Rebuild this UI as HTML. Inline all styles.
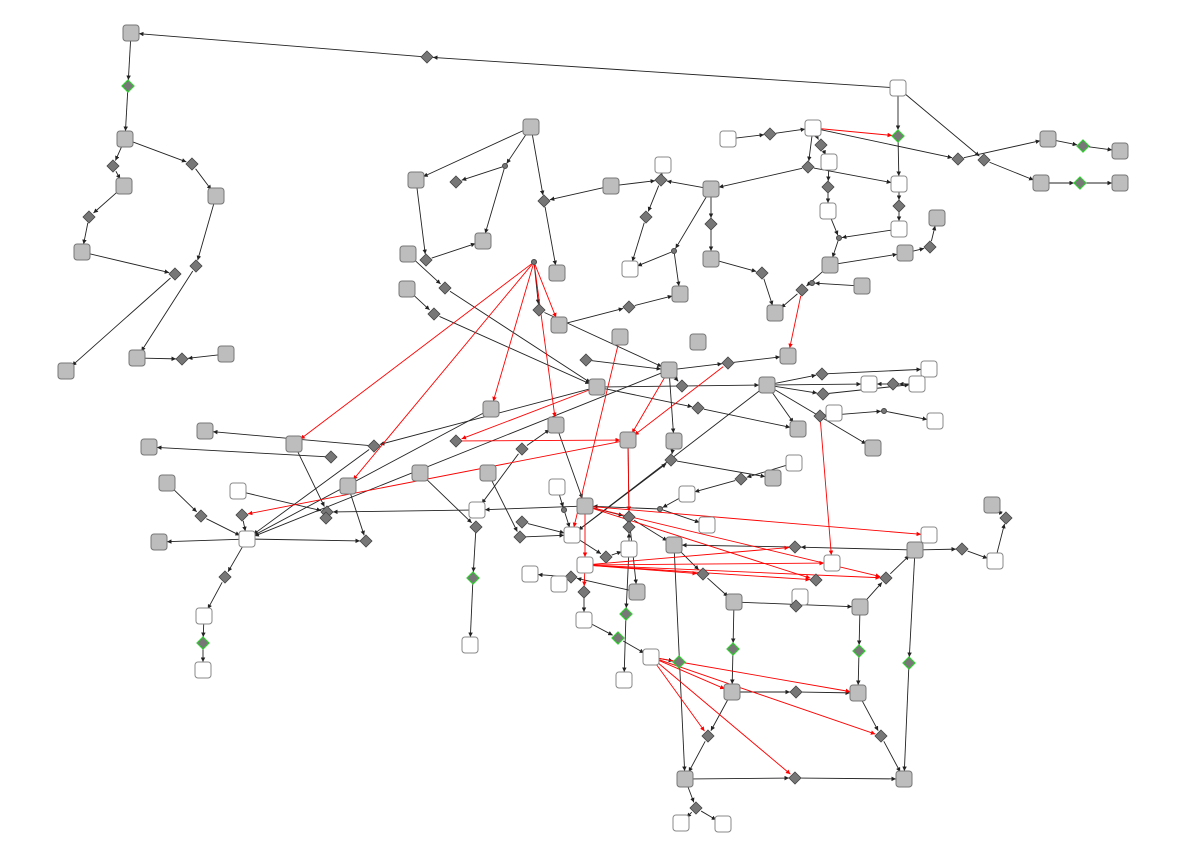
<!DOCTYPE html>
<html><head><meta charset="utf-8"><style>html,body{margin:0;padding:0;background:#fff}svg{display:block}</style></head>
<body>
<svg id="g" width="1203" height="862" viewBox="0 0 1203 862" xmlns="http://www.w3.org/2000/svg">
<defs>
<marker id="ab" viewBox="0 0 6 6" refX="6" refY="3" markerWidth="5" markerHeight="5" orient="auto"><path d="M0,0L6,3L0,6z" fill="#222"/></marker>
<marker id="ar" viewBox="0 0 6 6" refX="6" refY="3" markerWidth="5" markerHeight="5" orient="auto"><path d="M0,0L6,3L0,6z" fill="#f00"/></marker>
</defs>
<g id="edges"></g>
<g id="nodes"></g>
</svg>
<script>
const nodes=[
[131,33,'G'],[427,57,'D'],[898,88,'W'],[128,86,'E'],[125,139,'G'],[113,166,'D'],[192,164,'D'],[124,186,'G'],[216,196,'G'],[89,217,'D'],[82,252,'G'],[175,274,'D'],[196,266,'D'],[66,371,'G'],[137,358,'G'],[182,359,'D'],[226,354,'G'],
[531,127,'G'],[505,166,'S'],[456,182,'D'],[416,180,'G'],[544,201,'D'],[483,241,'G'],[426,260,'D'],[408,254,'G'],[557,273,'G'],[534,262,'S'],[407,289,'G'],[445,288,'D'],[434,314,'D'],[539,310,'D'],[559,325,'G'],[629,307,'D'],[680,294,'G'],[620,337,'G'],[698,342,'G'],[586,360,'D'],[669,370,'G'],[728,363,'D'],[788,356,'G'],[597,387,'G'],[682,386,'D'],[767,385,'G'],[491,409,'G'],[698,408,'D'],
[728,139,'W'],[770,134,'D'],[813,128,'W'],[898,136,'E'],[958,159,'D'],[984,160,'D'],[1048,139,'G'],[1083,146,'E'],[1120,151,'G'],[1041,183,'G'],[1080,183,'E'],[1120,183,'G'],[663,165,'W'],[661,180,'D'],[611,186,'G'],[711,189,'G'],[821,145,'D'],[829,162,'W'],[808,167,'D'],[828,187,'D'],[899,184,'W'],[828,211,'W'],[646,217,'D'],[711,224,'D'],[899,206,'D'],[899,229,'W'],[937,218,'G'],[839,238,'S'],[674,251,'S'],[630,269,'W'],[711,259,'G'],[762,273,'D'],[830,265,'G'],[930,247,'D'],[905,253,'G'],[862,286,'G'],[802,290,'D'],[812,283,'S'],[775,313,'G'],
[822,374,'D'],[929,369,'W'],[869,384,'W'],[893,384,'D'],[917,384,'W'],[823,394,'D'],[834,413,'W'],[820,416,'D'],[884,411,'S'],[935,421,'W'],[798,429,'G'],[873,448,'G'],
[294,444,'G'],[205,431,'G'],[149,447,'G'],[374,446,'D'],[456,441,'D'],[556,425,'G'],[628,440,'G'],[331,457,'D'],[522,449,'D'],[674,441,'G'],[671,460,'D'],[420,473,'G'],[488,473,'G'],[741,479,'D'],[773,478,'G'],[794,463,'W'],[348,486,'G'],[167,483,'G'],[238,491,'W'],[242,515,'D'],[201,516,'D'],[159,542,'G'],[247,539,'W'],[327,512,'D'],[326,518,'D'],[366,541,'D'],[477,510,'W'],[476,527,'D'],[557,487,'W'],[585,506,'G'],[564,510,'S'],[522,522,'D'],[520,537,'D'],[572,535,'W'],[629,517,'D'],[660,509,'S'],[687,494,'W'],[707,525,'W'],[629,527,'D'],[629,549,'W'],[606,557,'D'],[674,545,'G'],[795,547,'D'],[915,550,'G'],[929,535,'W'],[962,549,'D'],[995,561,'W'],[992,505,'G'],[1006,518,'D'],
[585,565,'W'],[530,574,'W'],[571,577,'D'],[559,584,'W'],[584,592,'D'],[637,592,'G'],[703,574,'D'],[832,563,'W'],[816,580,'D'],[886,578,'D'],[800,597,'W'],[734,602,'G'],[796,606,'D'],[860,607,'G'],[473,578,'E'],[225,577,'D'],[204,616,'W'],[203,643,'E'],[203,670,'W'],[470,645,'W'],[584,620,'W'],[626,614,'E'],[618,638,'E'],[624,680,'W'],[651,657,'W'],[679,662,'E'],[733,649,'E'],[859,651,'E'],[909,663,'E'],[732,692,'G'],[796,692,'D'],[858,693,'G'],[708,736,'D'],[881,736,'D'],[685,779,'G'],[795,778,'D'],[904,779,'G'],[696,808,'D'],[681,823,'W'],[723,824,'W']
];
const blackEdges=[
[427,57,131,33],[898,88,427,57],[131,33,128,86],[128,86,125,139],[125,139,113,166],[125,139,192,164],[113,166,124,186],[192,164,216,196],[124,186,89,217],[89,217,82,252],[216,196,196,266],[82,252,175,274],[175,274,66,371],[196,266,137,358],[137,358,182,359],[226,354,182,359],
[898,88,898,136],[898,88,984,160],[984,160,1041,183],[1041,183,1080,183],[1080,183,1120,183],[813,128,958,159],[958,159,1048,139],[1048,139,1083,146],[1083,146,1120,151],[728,139,770,134],[770,134,813,128],[813,128,821,145],[821,145,829,162],[813,128,808,167],[808,167,711,189],[808,167,899,184],[829,162,828,187],[828,187,828,211],[898,136,899,184],[899,184,899,206],[899,206,899,229],[899,229,839,238],[828,211,839,238],[839,238,830,265],[830,265,905,253],[905,253,930,247],[930,247,937,218],[830,265,802,290],[802,290,775,313],[862,286,812,283],[711,189,711,224],[711,224,711,259],[711,259,762,273],[762,273,775,313],[711,189,674,251],[674,251,630,269],[674,251,680,294],[711,189,661,180],[661,180,663,165],[661,180,646,217],[646,217,630,269],[611,186,661,180],[611,186,544,180],
[531,127,416,180],[531,127,505,166],[505,166,483,241],[505,166,456,182],[416,180,426,260],[426,260,483,241],[531,127,544,201],[544,201,557,273],[408,254,445,288],[445,288,597,387],[407,289,434,314],[434,314,597,387],[539,310,669,370],[559,325,629,307],[629,307,680,294],[534,262,539,310],[586,360,669,370],[669,370,728,363],[728,363,788,356],[669,370,682,386],[597,387,767,385],[669,370,674,441],[767,385,822,374],[822,374,929,369],[767,385,869,384],[917,384,893,384],[893,384,869,384],[767,385,823,394],[823,394,917,384],[767,385,798,429],[597,387,698,408],[698,408,798,429],[820,416,834,413],[884,411,935,421],[820,416,884,411],[767,385,873,448],[767,385,572,535],[597,387,374,446],[374,446,247,539],[374,446,205,431],[294,444,326,512],[331,457,149,447],[669,370,247,539],[491,409,247,539],[522,449,556,425],[522,449,477,510],[420,473,476,527],[488,473,520,537],[671,460,773,478],[794,463,741,479],[741,479,687,494],[687,494,660,509],[660,509,707,525],[660,509,585,506],[585,506,629,517],[629,517,674,545],[585,506,477,510],[477,510,327,512],[476,527,473,578],[473,578,470,645],[564,510,572,535],[520,537,572,535],[522,522,572,535],[557,487,564,510],[348,486,366,541],[238,491,326,512],[247,539,366,541],[247,539,159,542],[167,483,201,516],[201,516,247,539],[242,515,247,539],[247,539,225,577],[225,577,204,616],[204,616,203,643],[203,643,203,670],[572,535,674,460],[572,535,606,557],[606,557,629,549],[629,549,629,527],[629,549,626,614],[626,614,624,680],[637,592,571,577],[571,577,530,574],[559,584,571,577],[584,592,584,620],[584,620,618,638],[618,638,651,657],[674,545,703,574],[703,574,734,602],[674,545,685,779],[734,602,860,607],[860,607,886,578],[886,578,915,550],[915,550,962,549],[962,549,995,561],[995,561,1006,518],[1006,518,992,505],[915,550,795,547],[795,547,674,545],[915,550,909,663],[909,663,904,779],[860,607,859,651],[859,651,858,693],[734,602,733,649],[733,649,732,692],[732,692,796,692],[796,692,858,693],[732,692,708,736],[708,736,685,779],[858,693,881,736],[881,736,904,779],[685,779,795,778],[795,778,904,779],[685,779,696,808],[696,808,681,823],[696,808,723,824],[651,657,679,662],[628,440,629,517],[674,441,671,460],[556,425,585,506],[629,517,637,592]
];
const redEdges=[
[813,128,898,136],[534,262,294,444],[534,262,348,486],[534,262,491,409],[534,262,556,425],[534,262,559,325],[620,337,572,535],[802,290,788,356],[820,416,832,563],[628,440,242,515],[456,441,628,440],[597,387,456,441],[669,370,628,440],[728,363,628,440],[628,440,629,517],[585,506,929,535],[585,506,886,578],[585,506,816,580],[585,565,795,547],[585,565,886,578],[585,565,832,563],[585,565,816,580],[585,565,703,574],[585,506,585,565],[585,565,584,592],[651,657,858,693],[651,657,881,736],[651,657,795,778],[651,657,732,692],[651,657,708,736]
];
const NS='http://www.w3.org/2000/svg';
function snap(x,y){let b=null,d=1e9;for(const n of nodes){const e=(n[0]-x)**2+(n[1]-y)**2;if(e<d){d=e;b=n;}}return b;}
function rad(t){return t==='S'?3:(t==='D'||t==='E')?6:8;}
const eg=document.getElementById('edges'),ng=document.getElementById('nodes');
function drawEdge(e,red){const a=snap(e[0],e[1]),b=snap(e[2],e[3]);const dx=b[0]-a[0],dy=b[1]-a[1],L=Math.hypot(dx,dy)||1;const ra=rad(a[2]),rb=rad(b[2]);
const l=document.createElementNS(NS,'line');
l.setAttribute('x1',a[0]+dx/L*ra);l.setAttribute('y1',a[1]+dy/L*ra);l.setAttribute('x2',b[0]-dx/L*rb);l.setAttribute('y2',b[1]-dy/L*rb);
l.setAttribute('stroke',red?'#f00':'#222');l.setAttribute('stroke-width','0.9');l.setAttribute('marker-end',red?'url(#ar)':'url(#ab)');


eg.appendChild(l);}
blackEdges.forEach(e=>drawEdge(e,false));redEdges.forEach(e=>drawEdge(e,true));
nodes.forEach(n=>{const [x,y,t]=n;let el;
if(t==='G'||t==='W'){el=document.createElementNS(NS,'rect');el.setAttribute('x',x-8);el.setAttribute('y',y-8);el.setAttribute('width',16);el.setAttribute('height',16);el.setAttribute('rx',3);el.setAttribute('fill',t==='G'?'#bdbdbd':'#fff');el.setAttribute('stroke',t==='G'?'#777':'#888');el.setAttribute('stroke-width','1');
}
else if(t==='S'){el=document.createElementNS(NS,'circle');el.setAttribute('cx',x);el.setAttribute('cy',y);el.setAttribute('r',2.5);el.setAttribute('fill','#777');el.setAttribute('stroke','#444');
}
else{el=document.createElementNS(NS,'polygon');el.setAttribute('points',`${x},${y-6} ${x+6},${y} ${x},${y+6} ${x-6},${y}`);el.setAttribute('fill','#777');el.setAttribute('stroke',t==='E'?'#3c3':'#444');el.setAttribute('stroke-width',t==='E'?'1.2':'0.8');
}

ng.appendChild(el);});
</script>
</body></html>
